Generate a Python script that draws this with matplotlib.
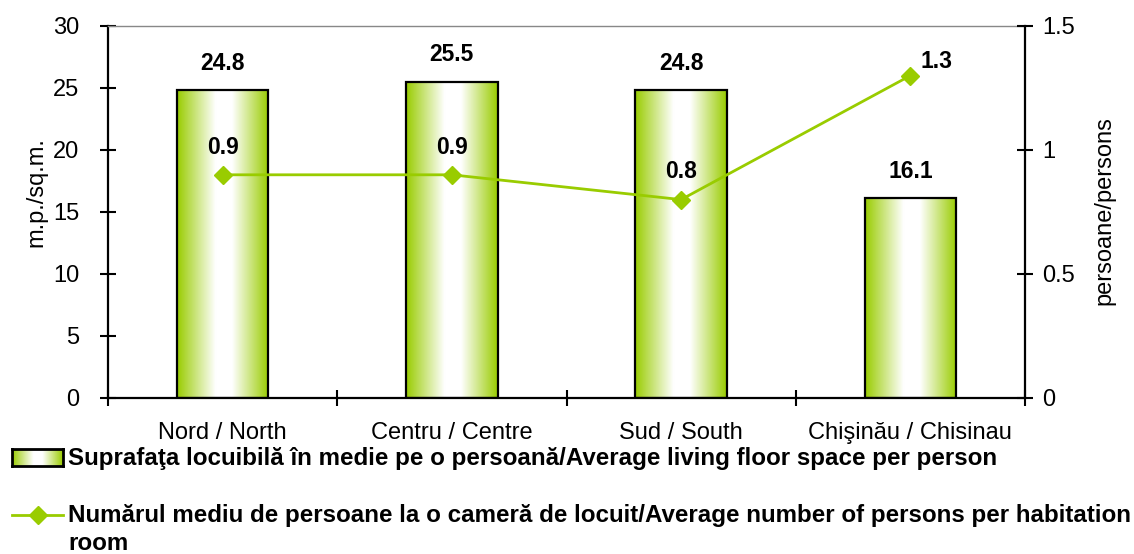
import numpy as np
import matplotlib
matplotlib.use("Agg")
import matplotlib.pyplot as plt
from matplotlib.lines import Line2D
from matplotlib.colors import LinearSegmentedColormap

plt.rcParams['font.family'] = ['Liberation Sans', 'DejaVu Sans']

categories = ["Nord / North", "Centru / Centre", "Sud / South", "Chişinău / Chisinau"]
floor_space = [24.8, 25.5, 24.8, 16.1]
persons_per_room = [0.9, 0.9, 0.8, 1.3]
left_ticks = [0, 5, 10, 15, 20, 25, 30]
right_ticks = [0, 0.5, 1, 1.5]
right_tick_labels = ["0", "0.5", "1", "1.5"]
bar_label_text = ["24.8", "25.5", "24.8", "16.1"]
line_label_text = ["0.9", "0.9", "0.8", "1.3"]
legend_bar = "Suprafaţa locuibilă în medie pe o persoană/Average living floor space per person"
legend_line = "Numărul mediu de persoane la o cameră de locuit/Average number of persons per habitation\nroom"
left_label = "m.p./sq.m."
right_label = "persoane/persons"

GREEN = "#99CC00"
cmap = LinearSegmentedColormap.from_list(
    "g", [(0.0, GREEN), (0.42, "#ffffff"), (0.6, "#ffffff"), (1.0, GREEN)])
grad = np.linspace(0, 1, 256).reshape(1, -1)

W, H = 1134, 554
fig = plt.figure(figsize=(W / 100, H / 100), dpi=100)
ax = fig.add_axes([108 / W, 1 - 398 / H, (1025 - 108) / W, (398 - 26) / H])
ax2 = ax.twinx()

x = np.arange(len(categories))
bars = ax.bar(x, floor_space, width=0.4, facecolor="none", edgecolor="black", linewidth=1.6, zorder=3)
for b in bars:
    x0, y0 = b.get_x(), b.get_y()
    im = ax.imshow(grad, cmap=cmap, aspect="auto", interpolation="bilinear",
                   extent=(x0, x0 + b.get_width(), y0, y0 + b.get_height()), zorder=2)
    im.set_clip_path(b)

ax.set_xlim(-0.5, len(categories) - 0.5)
ax.set_ylim(0, 30)
ax.set_yticks(left_ticks)
ax.set_xticks(np.arange(len(categories) + 1) - 0.5)
ax.set_xticklabels([])
ax.set_xticks(x, minor=True)
ax.set_xticklabels(categories, minor=True)
ax.tick_params(axis="x", which="minor", length=0, pad=17, labelsize=17)
ax.tick_params(axis="x", which="major", direction="inout", length=11, width=1.5)
ax.tick_params(axis="y", direction="inout", length=11, width=1.5, labelsize=17, pad=15)
ax.set_ylabel(left_label, fontsize=17)
ax.yaxis.set_label_coords(-0.0665, 0.554)

for s in ["left", "bottom"]:
    ax.spines[s].set_linewidth(1.6)
ax.spines["top"].set_color("#888888")
ax.spines["top"].set_linewidth(1.0)
ax.spines["right"].set_visible(False)

for xi, v, t in zip(x, floor_space, bar_label_text):
    ax.annotate(t, (xi, v), xytext=(0, 19.5), textcoords="offset points",
                ha="center", va="center", fontsize=16.5, fontweight="bold")

ax2.plot(x, persons_per_room, color=GREEN, linewidth=2, marker="D", markersize=9.5, zorder=5)
ax2.set_ylim(0, 1.5)
ax2.set_yticks(right_ticks)
ax2.set_yticklabels(right_tick_labels)
ax2.tick_params(axis="y", direction="inout", length=11, width=1.5, labelsize=17, pad=7)
ax2.spines["right"].set_linewidth(1.6)
ax2.spines["top"].set_visible(False)
ax2.spines["left"].set_visible(False)
ax2.spines["bottom"].set_visible(False)
ax2.set_ylabel(right_label, fontsize=17)
ax2.yaxis.set_label_coords(1.075, 0.505)

line_offsets = [(0, 20), (0, 20), (0, 20), (19, 10)]
for xi, v, t, off in zip(x, persons_per_room, line_label_text, line_offsets):
    ax2.annotate(t, (xi, v), xytext=off, textcoords="offset points",
                 ha="center", va="center", fontsize=16.5, fontweight="bold")

# Legend (manual)
hax = fig.add_axes([12 / W, 1 - 466 / H, 51 / W, 17 / H])
hax.imshow(grad, cmap=cmap, aspect="auto", interpolation="bilinear")
hax.set_xticks([])
hax.set_yticks([])
for s in hax.spines.values():
    s.set_linewidth(2)
fig.text(68 / W, 1 - 458 / H, legend_bar, fontsize=17.35, fontweight="bold", va="center", ha="left")

fig.add_artist(Line2D([12 / W, 63 / W], [1 - 515 / H, 1 - 515 / H], color=GREEN, linewidth=2,
                      transform=fig.transFigure))
fig.add_artist(Line2D([37.5 / W], [1 - 515 / H], color=GREEN, marker="D", markersize=9.5,
                      transform=fig.transFigure))
fig.text(68 / W, 1 - 504 / H, legend_line, fontsize=17.35, fontweight="bold", va="top", ha="left",
         linespacing=1.25)

fig.savefig("out.png", dpi=100)
